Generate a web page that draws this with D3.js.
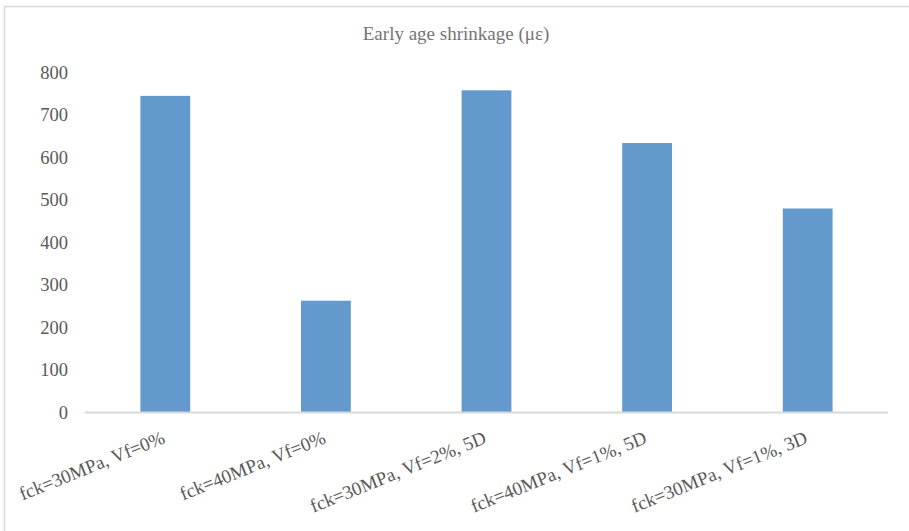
<!DOCTYPE html>
<html>
<head>
<meta charset="utf-8">
<script src="https://cdn.jsdelivr.net/npm/d3@7"></script>
<style>
  html, body { margin: 0; padding: 0; background: #fff; }
  svg { display: block; }
  svg text { font-family: "Liberation Serif", "DejaVu Serif", serif; }
</style>
</head>
<body>
<svg id="chart" width="909" height="531"></svg>
<script>
const title = "Early age shrinkage (με)";
const categories = [
  "fck=30MPa, Vf=0%",
  "fck=40MPa, Vf=0%",
  "fck=30MPa, Vf=2%, 5D",
  "fck=40MPa, Vf=1%, 5D",
  "fck=30MPa, Vf=1%, 3D"
];
const values = [745, 263, 758, 634, 480];
const yTicks = [0, 100, 200, 300, 400, 500, 600, 700, 800];

(function () {
const svg = d3.select("#chart");
const W = 909, H = 531;
const mLeft = 85, mRight = 888, mTop = 72.5, mBottom = 412.5;

// outer border
svg.append("rect")
  .attr("x", 4.5).attr("y", 6.5)
  .attr("width", W + 10).attr("height", H + 10)
  .attr("fill", "#fff").attr("stroke", "#d9d9d9").attr("stroke-width", 1.5);

const x = d3.scaleBand().domain(categories).range([mLeft, mRight])
  .paddingInner(0.69).paddingOuter(0.345);
const y = d3.scaleLinear().domain([0, 800]).range([mBottom, mTop]);

// title
svg.append("text")
  .attr("x", 456).attr("y", 40)
  .attr("text-anchor", "middle")
  .attr("font-size", 19)
  .attr("fill", "#757575")
  .text(title);

// y axis labels
const yAxis = d3.axisLeft(y).tickValues(yTicks).tickSize(0).tickPadding(0).tickFormat(d3.format("d"));
const yg = svg.append("g").attr("transform", `translate(68,0)`).call(yAxis);
yg.attr("font-family", null).attr("font-size", null);
yg.select(".domain").remove();
yg.selectAll("text")
  .attr("font-size", 18.5)
  .attr("fill", "#595959").attr("x", 0).attr("dy", "0.32em");

// bars
svg.append("g").selectAll("rect")
  .data(values)
  .join("rect")
  .attr("x", (d, i) => x(categories[i]))
  .attr("y", d => y(d))
  .attr("width", x.bandwidth())
  .attr("height", d => y(0) - y(d))
  .attr("fill", "#6399cc");

// x axis
const xAxis = d3.axisBottom(x).tickSize(0).tickPadding(0);
const xg = svg.append("g").attr("transform", `translate(0,${mBottom})`).call(xAxis);
xg.attr("font-family", null).attr("font-size", null);
xg.select(".domain").attr("stroke", "#d9d9d9").attr("stroke-width", 2)
  .attr("d", `M${mLeft},0H${mRight}`);
xg.selectAll(".tick text")
  .attr("font-size", 19)
  .attr("fill", "#595959")
  .attr("text-anchor", "end")
  .attr("x", 0).attr("y", 0).attr("dy", 0)
  .attr("transform", "translate(1,30) rotate(-22)");
})();
</script>
</body>
</html>
